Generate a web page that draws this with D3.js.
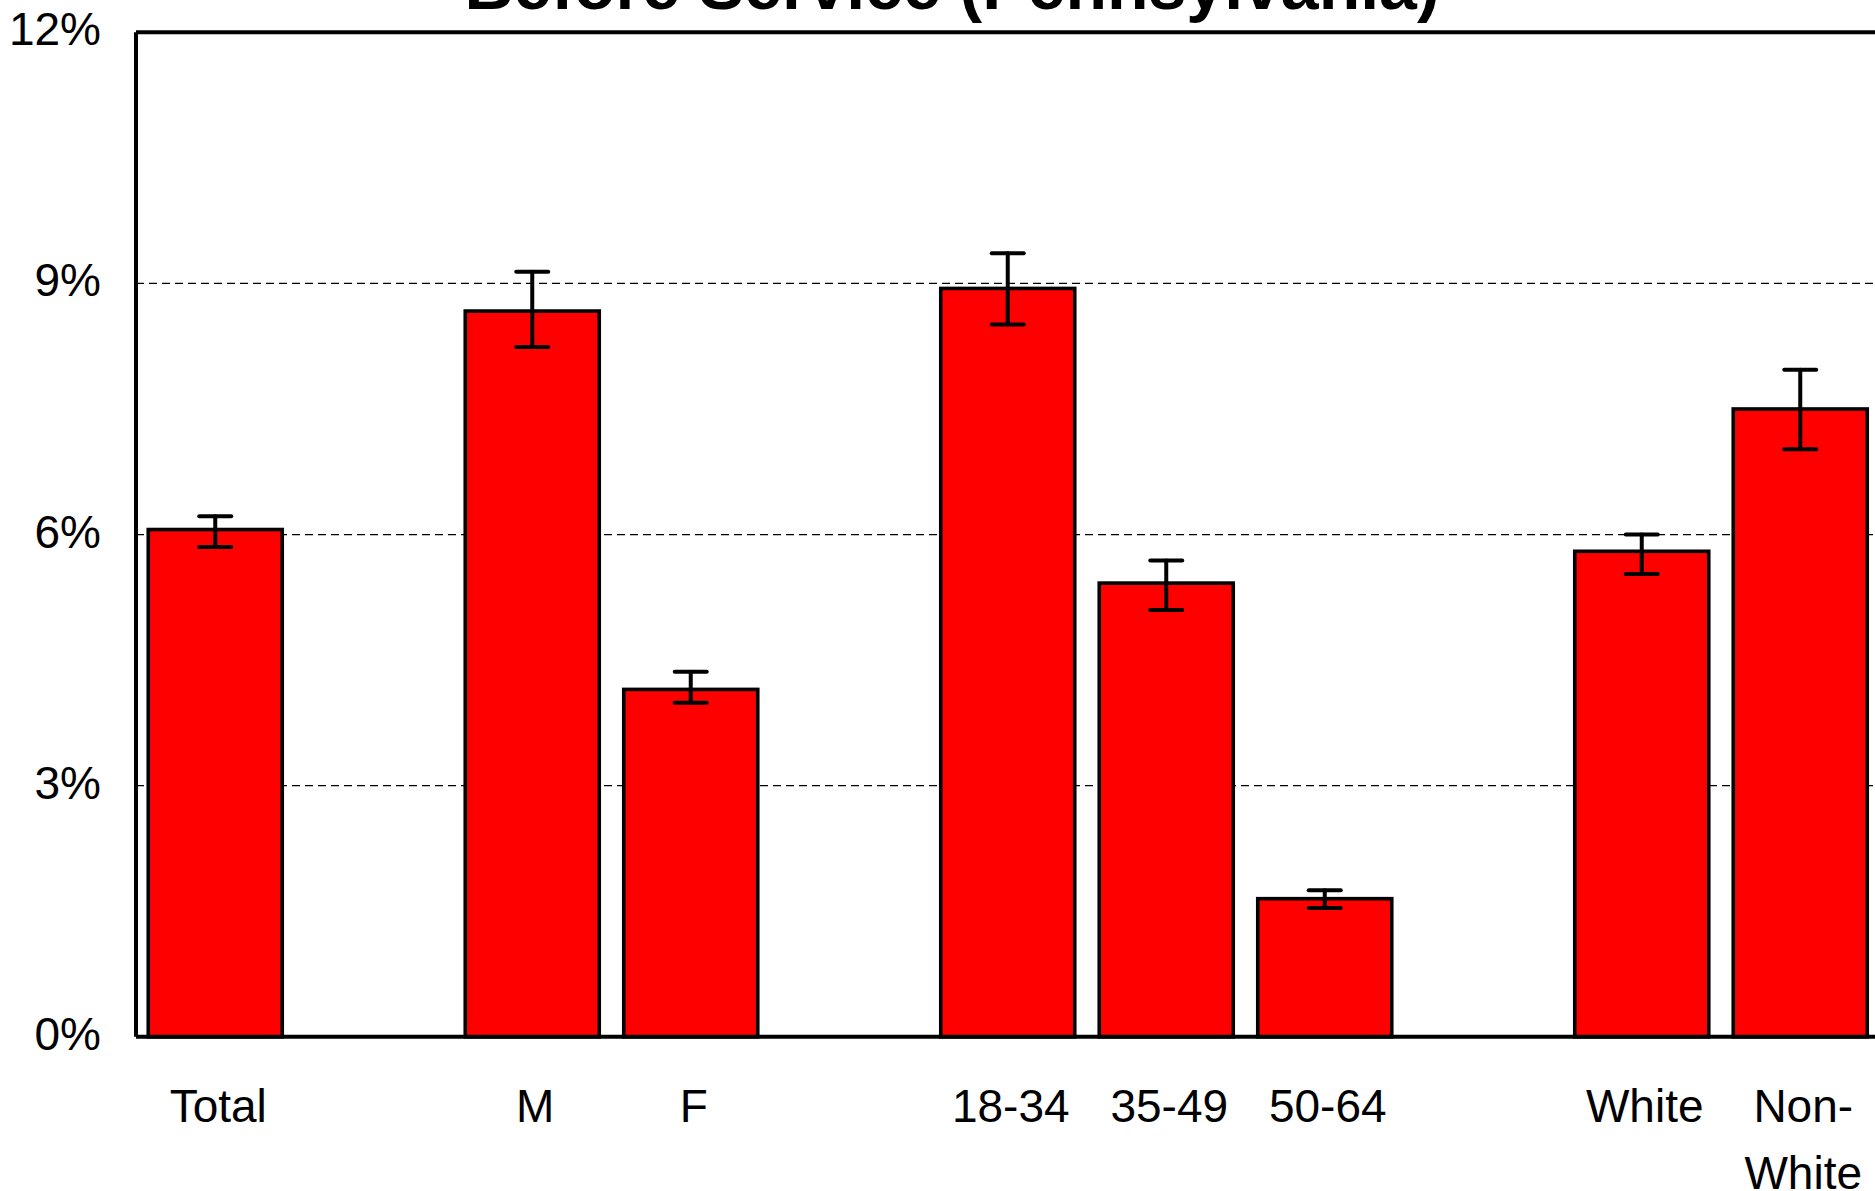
<!DOCTYPE html>
<html>
<head>
<meta charset="utf-8">
<script src="https://cdn.jsdelivr.net/npm/d3@7"></script>
<style>
  html, body { margin: 0; padding: 0; background: #fff; overflow: hidden; }
  svg { display: block; }
  text { font-family: "Liberation Sans", Arial, sans-serif; fill: #000; }
</style>
</head>
<body>
<script>
// ---- data ----
const categories = ["Total", "M", "F", "18-34", "35-49", "50-64", "White", "Non-White"];
const groups     = [0, 1, 1, 2, 2, 2, 3, 3];
const values     = [6.06, 8.67, 4.15, 8.94, 5.42, 1.65, 5.80, 7.50];
const errLow     = [5.85, 8.24, 3.99, 8.51, 5.10, 1.54, 5.53, 7.02];
const errHigh    = [6.22, 9.14, 4.36, 9.36, 5.69, 1.75, 6.00, 7.97];
const labelLines = [["Total"], ["M"], ["F"], ["18-34"], ["35-49"], ["50-64"], ["White"], ["Non-", "White"]];
const yTicks     = [0, 3, 6, 9, 12];
const yTickLabels = ["0%", "3%", "6%", "9%", "12%"];
const titleText  = "Before Service (Pennsylvania)";

// ---- layout ----
const W = 1875, H = 1191;
const plotLeft = 136, step = 158.5;

// slot domain: categories with a gap slot between groups
const slots = [];
categories.forEach((c, i) => {
  if (i > 0 && groups[i] !== groups[i - 1]) slots.push("__gap" + i);
  slots.push(c);
});

const x = d3.scaleBand()
  .domain(slots)
  .range([plotLeft, plotLeft + step * slots.length])
  .paddingInner(0.1546)
  .paddingOuter(0.0773);

const y = d3.scaleLinear().domain([0, 12]).range([1036.8, 32.3]);

const svg = d3.select("body").append("svg")
  .attr("width", W).attr("height", H);

svg.append("rect").attr("width", W).attr("height", H).attr("fill", "#fff");

const plotRight = plotLeft + step * slots.length;

// gridlines
svg.append("g").selectAll("line")
  .data(yTicks.filter(t => t > 0 && t < 12))
  .join("line")
  .attr("x1", plotLeft).attr("x2", plotRight)
  .attr("y1", d => y(d)).attr("y2", d => y(d))
  .attr("stroke", "#000").attr("stroke-width", 1.2)
  .attr("stroke-dasharray", "8,5");

// frame top & left
svg.append("line").attr("x1", plotLeft).attr("x2", plotRight)
  .attr("y1", y(12)).attr("y2", y(12))
  .attr("stroke", "#000").attr("stroke-width", 4);
svg.append("line").attr("x1", plotLeft).attr("x2", plotLeft)
  .attr("y1", y(12)).attr("y2", y(0))
  .attr("stroke", "#000").attr("stroke-width", 4);

// bars
svg.append("g").selectAll("rect")
  .data(categories)
  .join("rect")
  .attr("x", d => x(d))
  .attr("width", x.bandwidth())
  .attr("y", (d, i) => y(values[i]))
  .attr("height", (d, i) => y(0) - y(values[i]))
  .attr("fill", "#ff0000")
  .attr("stroke", "#000")
  .attr("stroke-width", 3.6);

// bottom axis line
svg.append("line").attr("x1", plotLeft).attr("x2", plotRight)
  .attr("y1", y(0)).attr("y2", y(0))
  .attr("stroke", "#000").attr("stroke-width", 4);

// error bars
const eb = svg.append("g").attr("stroke", "#000").attr("stroke-width", 4).attr("stroke-linecap", "round");
const capW = 32;
categories.forEach((c, i) => {
  const cx = x(c) + x.bandwidth() / 2;
  eb.append("line").attr("x1", cx).attr("x2", cx).attr("y1", y(errLow[i])).attr("y2", y(errHigh[i]));
  eb.append("line").attr("x1", cx - capW / 2).attr("x2", cx + capW / 2).attr("y1", y(errLow[i])).attr("y2", y(errLow[i]));
  eb.append("line").attr("x1", cx - capW / 2).attr("x2", cx + capW / 2).attr("y1", y(errHigh[i])).attr("y2", y(errHigh[i]));
});

// y tick labels
svg.append("g").selectAll("text")
  .data(yTicks)
  .join("text")
  .attr("x", 101)
  .attr("y", d => y(d) + 13)
  .attr("text-anchor", "end")
  .attr("font-size", 46)
  .text((d, i) => yTickLabels[i]);

// category labels
const cl = svg.append("g");
categories.forEach((c, i) => {
  const cx = x(c) + x.bandwidth() / 2 + 3;
  const t = cl.append("text")
    .attr("x", cx).attr("y", 1121.5)
    .attr("text-anchor", "middle")
    .attr("font-size", 46);
  labelLines[i].forEach((ln, j) => {
    t.append("tspan").attr("x", cx).attr("y", 1121.5 + j * 67).text(ln);
  });
});

// title
svg.append("text")
  .attr("x", 952).attr("y", 9)
  .attr("text-anchor", "middle")
  .attr("font-size", 68)
  .attr("font-weight", "bold")
  .text(titleText);
</script>
</body>
</html>
